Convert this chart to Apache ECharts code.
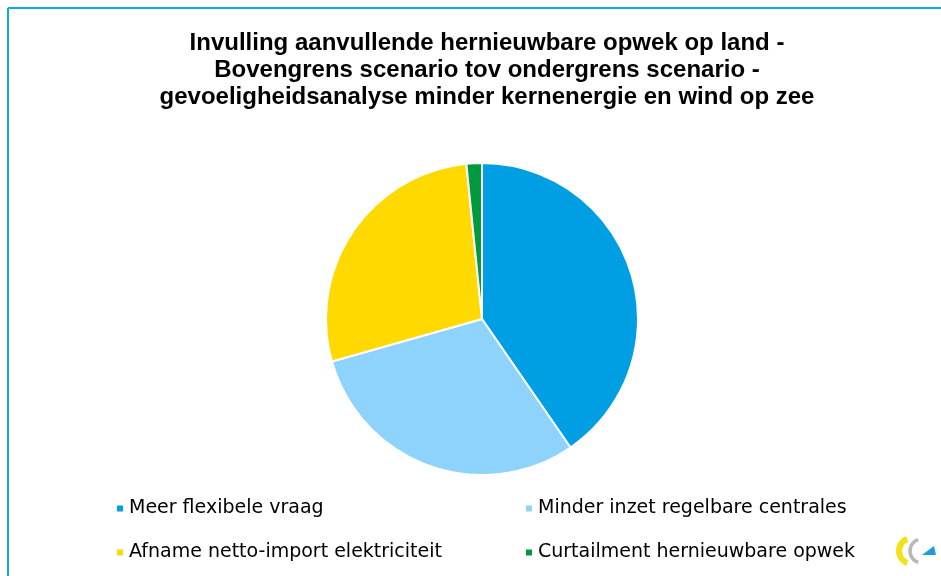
<!DOCTYPE html>
<html>
<head>
<meta charset="utf-8">
<script src="https://cdn.jsdelivr.net/npm/echarts@6/dist/echarts.min.js"></script>
<style>
    html, body { margin: 0; padding: 0; background: #fff; }
    #chart { width: 941px; height: 576px; }
</style>
</head>
<body>
<div id="chart"></div>
<script>
    // gegevens (aandelen in %)
    var categories = ['Meer flexibele vraag', 'Minder inzet regelbare centrales', 'Afname netto-import elektriciteit', 'Curtailment hernieuwbare opwek'];
    var values = [40.4, 30.2, 27.8, 1.6];
    var colors = ['#009FE3', '#8ED3FB', '#FFD900', '#009A3E'];
    var titleLines = [
        'Invulling aanvullende hernieuwbare opwek op land -',
        'Bovengrens scenario tov ondergrens scenario -',
        'gevoeligheidsanalyse minder kernenergie en wind op zee'
    ];

    var data = [];
    for (var i = 0; i < categories.length; i++) {
        data.push({ name: categories[i], value: values[i], itemStyle: { color: colors[i] } });
    }

    var legendText = { fontFamily: 'DejaVu Sans', fontSize: 19, color: '#000' };

    var chart = echarts.init(document.getElementById('chart'));
    var option = {
        backgroundColor: '#fff',
        animation: false,
        title: {
            text: titleLines.join('\n'),
            left: 482,
            top: 25,
            textAlign: 'center',
            textStyle: {
                fontFamily: 'Liberation Sans',
                fontWeight: 'bold',
                fontSize: 24,
                lineHeight: 27,
                color: '#000'
            }
        },
        legend: [
            {
                data: [categories[0], categories[2]],
                orient: 'vertical',
                left: 110,
                top: 494,
                itemGap: 25,
                itemWidth: 8,
                itemHeight: 8,
                icon: 'rect',
                textStyle: legendText
            },
            {
                data: [categories[1], categories[3]],
                orient: 'vertical',
                left: 519,
                top: 494,
                itemGap: 25,
                itemWidth: 8,
                itemHeight: 8,
                icon: 'rect',
                textStyle: legendText
            }
        ],
        graphic: [
            // blauwe kaderlijn boven en links
            { type: 'line', shape: { x1: 8, y1: 8, x2: 941, y2: 8 }, style: { stroke: '#12A8E6', lineWidth: 2 } },
            { type: 'line', shape: { x1: 8, y1: 8, x2: 8, y2: 576 }, style: { stroke: '#12A8E6', lineWidth: 2 } },
            // klein logo rechtsonder
            { type: 'arc', shape: { cx: 912, cy: 551, r: 13, startAngle: Math.PI * 0.62, endAngle: Math.PI * 1.38 }, style: { stroke: '#F2E11B', fill: null, lineWidth: 6 } },
            { type: 'arc', shape: { cx: 922, cy: 551, r: 12, startAngle: Math.PI * 0.6, endAngle: Math.PI * 1.4 }, style: { stroke: '#B8B8B8', fill: null, lineWidth: 3.5 } },
            { type: 'polygon', shape: { points: [[922, 555], [936, 555], [934, 546]] }, style: { fill: '#1E9BE0' } }
        ],
        series: [
            {
                name: 'Invulling',
                type: 'pie',
                center: [482, 319],
                radius: [0, 156],
                startAngle: 90,
                clockwise: true,
                label: { show: false },
                labelLine: { show: false },
                itemStyle: { borderColor: '#fff', borderWidth: 2 },
                emphasis: { disabled: true },
                data: data
            }
        ]
    };
    chart.setOption(option);
</script>
</body>
</html>
